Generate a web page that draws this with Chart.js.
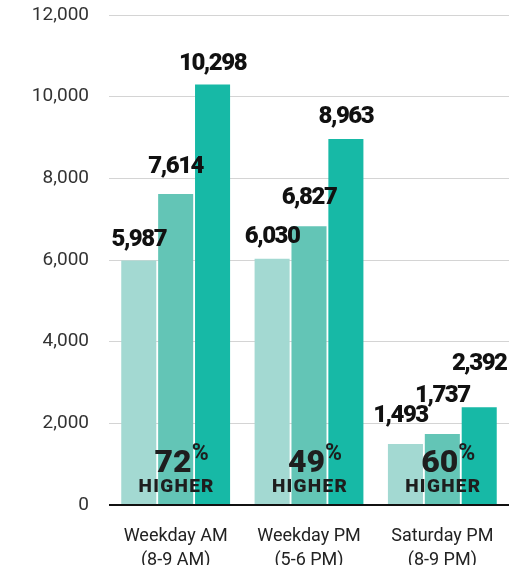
<!DOCTYPE html>
<html><head><meta charset="utf-8">
<script src="https://cdn.jsdelivr.net/npm/chart.js@4/dist/chart.umd.min.js"></script>
<style>html,body{margin:0;padding:0;background:#fff}#wrap{width:519px;height:565px}</style>
</head><body><div id="wrap"><canvas id="c" width="519" height="565"></canvas></div>
<script>
const categories = [["Weekday AM","(8-9 AM)"],["Weekday PM","(5-6 PM)"],["Saturday PM","(8-9 PM)"]];
const seriesA = [5987, 6030, 1493];
const seriesB = [7614, 6827, 1737];
const seriesC = [10298, 8963, 2392];
const increases = [72, 49, 60];
const yTicks = [0, 2000, 4000, 6000, 8000, 10000, 12000];

const fmt = v => v.toLocaleString('en-US');

// label placement styling (pixels above bar top, per dataset per category)
const labelLift = [[15, 16, 22], [21, 22, 32], [14, 16, 37]];
const labelShift = [[0, 0, -5], [0, 0, 0], [0, 0, 0]];

const labelPlugin = {
  id: 'labels',
  afterDatasetsDraw(chart) {
    const ctx = chart.ctx;
    ctx.save();
    ctx.fillStyle = '#111';
    ctx.textAlign = 'center';
    ctx.textBaseline = 'alphabetic';
    ctx.font = '900 24px Roboto';
    try { ctx.letterSpacing = '-1.5px'; } catch(e) {}
    chart.data.datasets.forEach((ds, di) => {
      chart.getDatasetMeta(di).data.forEach((bar, i) => {
        ctx.fillText(fmt(ds.data[i]), bar.x + labelShift[di][i], bar.y - labelLift[di][i]);
      });
    });
    try { ctx.letterSpacing = '0px'; } catch(e) {}
    const xs = chart.scales.x, bottom = chart.chartArea.bottom;
    increases.forEach((p, i) => {
      const cx = xs.getPixelForValue(i);
      ctx.fillStyle = '#1e1e1e';
      ctx.font = '900 32px Roboto';
      ctx.textAlign = 'right';
      ctx.fillText(String(p), cx + 16, bottom - 33);
      ctx.font = '700 23px Roboto';
      ctx.textAlign = 'left';
      ctx.fillText('%', cx + 16, bottom - 45);
      ctx.font = '900 19px Roboto';
      ctx.textAlign = 'center';
      try { ctx.letterSpacing = '1.3px'; } catch(e) {}
      ctx.fillText('HIGHER', cx + 1, bottom - 13);
      try { ctx.letterSpacing = '0px'; } catch(e) {}
    });
    ctx.restore();
  }
};

new Chart(document.getElementById('c'), {
  type: 'bar',
  data: {
    labels: categories,
    datasets: [
      { data: seriesA, backgroundColor: '#a3d9d2' },
      { data: seriesB, backgroundColor: '#63c5b6' },
      { data: seriesC, backgroundColor: '#17b9a6' }
    ]
  },
  options: {
    responsive: false,
    animation: false,
    events: [],
    layout: { padding: { top: 15, right: 10, left: 0, bottom: 0 } },
    datasets: { bar: { categoryPercentage: 0.83, barPercentage: 0.95 } },
    plugins: { legend: { display: false }, tooltip: { enabled: false } },
    scales: {
      x: {
        grid: { display: false },
        border: { display: false },
        ticks: { color: '#222', font: { family: 'Roboto', size: 18, lineHeight: 1.33 }, padding: 12, maxRotation: 0 },
        afterFit(s) { s.height = 60; s.paddingLeft = 0; s.paddingRight = 0; }
      },
      y: {
        min: 0, max: 12000,
        afterBuildTicks(s) { s.ticks = yTicks.map(v => ({ value: v })); },
        border: { display: false },
        grid: {
          drawTicks: false,
          color: c => c.tick && c.tick.value === 0 ? '#111' : '#d4d4d4',
          lineWidth: c => c.tick && c.tick.value === 0 ? 2 : 1
        },
        ticks: { color: '#333', font: { family: 'Roboto', size: 19 }, padding: 20, callback: v => fmt(v) },
        afterFit(s) { s.width = 109; s.paddingTop = 0; s.paddingBottom = 0; }
      }
    }
  },
  plugins: [labelPlugin]
});
</script></body></html>
